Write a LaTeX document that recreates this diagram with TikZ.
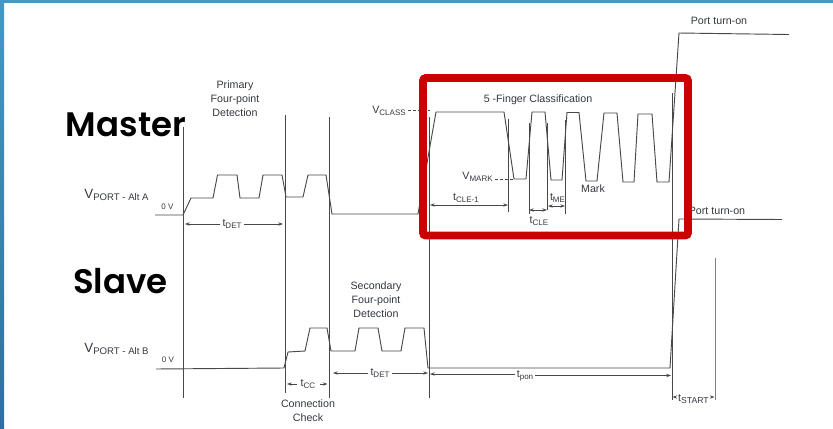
\documentclass[tikz,border=0pt]{standalone}
\usepackage{fontspec}
\setmainfont{Liberation Sans}
\newfontfamily\headfont[UprightFont={* SemiBold}]{Poppins}
\usetikzlibrary{arrows.meta}
\definecolor{inkgray}{HTML}{484848}
\definecolor{labelgray}{HTML}{33373F}
\definecolor{framered}{HTML}{CC0000}
\definecolor{barlight}{HTML}{4598C6}
\definecolor{bardark}{HTML}{2F6F9F}
\newcommand{\sublabel}[3]{#2\raisebox{-0.35ex}{\fontsize{#1}{#1}\selectfont #3}}
\tikzset{
  wave/.style={draw=inkgray, line width=0.7pt},
  marker/.style={draw=inkgray, line width=0.65pt},
  dimarrow/.style={draw=inkgray, line width=0.55pt, -{Stealth[length=3.5pt,width=2.5pt]}},
  dimboth/.style={draw=inkgray, line width=0.55pt, {Stealth[length=3.5pt,width=2.5pt]}-{Stealth[length=3.5pt,width=2.5pt]}},
  levelline/.style={draw=inkgray, line width=0.6pt, dashed, dash pattern=on 2.2pt off 1.5pt},
  caption/.style={font=\fontsize{8}{10.5}\selectfont, text=labelgray, align=center, inner sep=0pt},
  siglabel/.style={font=\fontsize{8}{9}\selectfont, text=labelgray, inner sep=1.5pt},
  rolelabel/.style={font=\headfont\fontsize{25.5}{28}\selectfont, text=black, inner sep=0pt},
}
\begin{document}
\begin{tikzpicture}[x=0.75pt,y=-0.75pt]
  \useasboundingbox (0,0) rectangle (833,429);
  % slide edge
  \shade[top color=barlight, bottom color=bardark, draw=none] (0,0) rectangle (4,429);
  \fill[barlight] (0,0) rectangle (833,3);

  % phase boundaries
  \draw[marker] (183,127) -- (183,398);
  \draw[marker] (285.5,115) -- (285.5,393);
  \draw[marker] (329.5,117) -- (329.5,398);
  \draw[marker] (429,117) -- (429,398);
  \draw[marker] (672,93) -- (672,400);
  \draw[marker, draw=gray] (715,258) -- (715,400);

  % master waveform
  \draw[wave] (155,215) -- (183,215) -- (191,198) -- (213,198) -- (217.5,175) -- (237,175)
    -- (240,198) -- (259,198) -- (263,175) -- (282,175) -- (286,197) -- (303,197)
    -- (308,175) -- (326,175) -- (332,214) -- (418,214) -- (436,112) -- (504,112)
    -- (514,179) -- (526,179) -- (532,112) -- (545,112) -- (551,180) -- (562,180)
    -- (567,112.5) -- (579,112.5) -- (586,181) -- (597,181) -- (604,113) -- (617,113)
    -- (623,182) -- (634,182) -- (638,114) -- (652,114) -- (657,182) -- (669,182)
    -- (679,33) -- (789,34.5);

  % slave waveform
  \draw[wave] (156,369) -- (284,368) -- (288,352) -- (305,351) -- (310,328) -- (327,328)
    -- (331,351) -- (355,351) -- (359,328) -- (378,328) -- (382,351) -- (401,351)
    -- (405,328) -- (424,328) -- (428,368) -- (670,368) -- (679,219) -- (782,219.5);

  % classification timing ticks
  \draw[marker] (508,119) -- (508,212);
  \draw[marker] (529,123) -- (529,214);
  \draw[marker] (547,123) -- (547,210);
  \draw[marker] (565,120) -- (565,214);

  % level markers
  \node[siglabel] (vClass) at (389,111) {\sublabel{6}{V}{CLASS}};
  \coordinate (vClassEnd) at (430,110);
  \draw[levelline] (vClass.east |- vClassEnd) -- (vClassEnd);
  \node[siglabel] (vMark) at (477.5,176.5) {\sublabel{6}{V}{MARK}};
  \coordinate (vMarkEnd) at (514,179);
  \draw[levelline] (vMark.east |- vMarkEnd) -- (vMarkEnd);

  % captions
  \node[caption] (primaryCap) at (235,99) {Primary\\Four-point\\Detection};
  \node[caption] (secondaryCap) at (376,300) {Secondary\\Four-point\\Detection};
  \node[caption] (connectCap) at (308,411) {Connection\\Check};
  \node[caption] (fingerCap) at (538,100) {5 -Finger Classification};
  \node[caption] (markCap) at (593,189) {Mark};
  \node[caption] (turnOnA) at (719,21) {Port turn-on};
  \node[caption] (turnOnB) at (717,211) {Port turn-on};

  % port labels
  \node[siglabel, font=\fontsize{10}{12}\selectfont] (portA) at (116.5,195) {\sublabel{7.2}{V}{PORT - Alt A}};
  \node[siglabel, font=\fontsize{10}{12}\selectfont] (portB) at (116.5,349) {\sublabel{7.2}{V}{PORT - Alt B}};
  \node[siglabel, font=\fontsize{6}{7}\selectfont] (zeroA) at (167.5,207) {0 V};
  \node[siglabel, font=\fontsize{6}{7}\selectfont] (zeroB) at (168,360) {0 V};

  % detection spans
  \node[siglabel] (tDetA) at (232,224) {\sublabel{6}{t}{DET}};
  \coordinate (tDetAl) at (185,224);
  \coordinate (tDetAr) at (283,224);
  \draw[dimarrow] (tDetA) -- (tDetAl);
  \draw[dimarrow] (tDetA) -- (tDetAr);
  \node[siglabel] (tCc) at (308,384) {\sublabel{6}{t}{CC}};
  \coordinate (tCcl) at (287,384);
  \coordinate (tCcr) at (327.5,384);
  \draw[dimarrow] (tCc) ++(-11,0) -- (tCcl);
  \draw[dimarrow] (tCc) ++(12,0) -- (tCcr);
  \node[siglabel] (tDetB) at (380,373) {\sublabel{6}{t}{DET}};
  \coordinate (tDetBl) at (333,373);
  \coordinate (tDetBr) at (428,373);
  \draw[dimarrow] (tDetB) -- (tDetBl);
  \draw[dimarrow] (tDetB) -- (tDetBr);
  \node[siglabel] (tPon) at (525,376) {\sublabel{6}{t}{pon}};
  \coordinate (tPonl) at (430,374);
  \coordinate (tPonr) at (671,375.5);
  \draw[dimarrow] (tPon.west |- tPonl) -- (tPonl);
  \draw[dimarrow] (tPon.east |- tPonr) -- (tPonr);
  \node[siglabel] (tStart) at (693.5,399) {\sublabel{6.5}{t}{START}};
  \coordinate (tStartl) at (672.5,397);
  \coordinate (tStartr) at (714.5,397);
  \draw[dimarrow] (tStart.west |- tStartl) -- (tStartl);
  \draw[dimarrow] (tStart.east |- tStartr) -- (tStartr);

  % classification spans
  \node[siglabel] (tCleOne) at (466,198) {\sublabel{6}{t}{CLE-1}};
  \coordinate (tCleOnel) at (430,205);
  \coordinate (tCleOner) at (508,205);
  \draw[dimboth] (tCleOnel) -- (tCleOner);
  \node[siglabel] (tCle) at (539,221) {\sublabel{6}{t}{CLE}};
  \coordinate (tClel) at (529,210);
  \coordinate (tCler) at (547,210);
  \draw[dimboth] (tClel) -- (tCler);
  \node[siglabel] (tMe) at (557.5,198) {\sublabel{6}{t}{ME}};
  \coordinate (tMel) at (548,206);
  \coordinate (tMer) at (565,206);
  \draw[dimboth] (tMel) -- (tMer);

  % highlight frame
  \draw[draw=framered, line width=5.8pt, rounded corners=2pt] (423,78) rectangle (688,235.5);

  % role labels
  \node[rolelabel] (masterLabel) at (126,125) {Master};
  \node[rolelabel] (slaveLabel) at (120.5,281) {Slave};
\end{tikzpicture}
\end{document}
